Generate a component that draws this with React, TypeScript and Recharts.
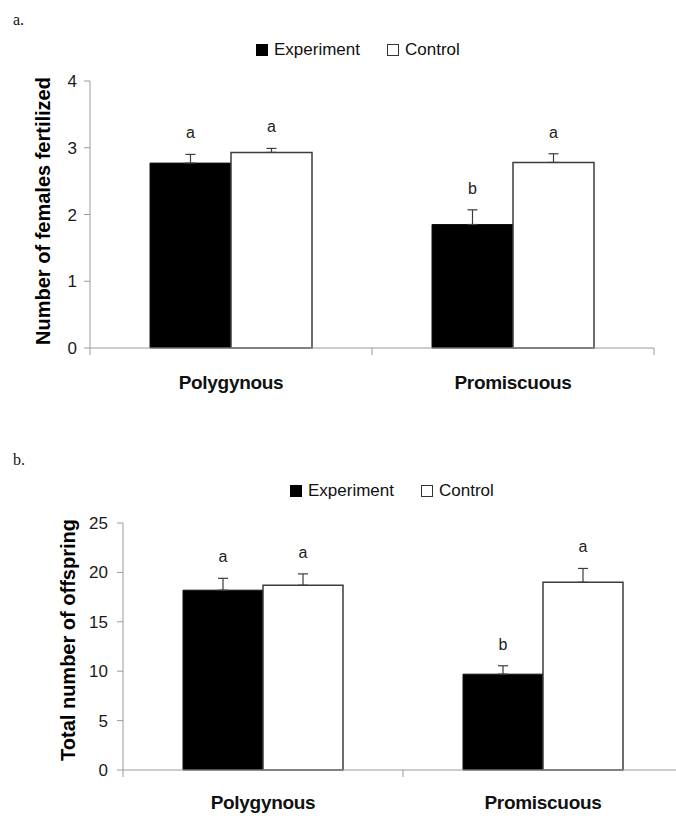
import React from 'react';
import { BarChart, Bar, XAxis, YAxis, ErrorBar, LabelList, Legend } from 'recharts';

const categories = ['Polygynous', 'Promiscuous'];
const seriesNames = ['Experiment', 'Control'];

// panel a: number of females fertilized
const fertExperiment = [2.77, 1.85];
const fertExperimentSe = [0.13, 0.22];
const fertControl = [2.93, 2.78];
const fertControlSe = [0.06, 0.13];
const fertTicks = [0, 1, 2, 3, 4];

// panel b: total number of offspring
const offExperiment = [18.2, 9.7];
const offExperimentSe = [1.2, 0.85];
const offControl = [18.7, 19.0];
const offControlSe = [1.15, 1.4];
const offTicks = [0, 5, 10, 15, 20, 25];

const experimentLetters = ['a', 'b'];
const controlLetters = ['a', 'a'];

const FONT = '"Liberation Sans", Arial, sans-serif';
const AXIS = '#9a9a9a';
const EDGE = '#3c3c3c';

const buildRows = (exp: number[], expSe: number[], ctl: number[], ctlSe: number[]) =>
  categories.map((name, i) => ({
    name,
    experiment: exp[i],
    control: ctl[i],
    expErr: [0, expSe[i]],
    ctlErr: [0, ctlSe[i]],
    expLetter: experimentLetters[i],
    ctlLetter: controlLetters[i],
  }));

const fertRows = buildRows(fertExperiment, fertExperimentSe, fertControl, fertControlSe);
const offRows = buildRows(offExperiment, offExperimentSe, offControl, offControlSe);

const LegendBox = () => (
  <div style={{ display: 'flex', alignItems: 'center', fontFamily: FONT, fontSize: 17, color: '#111', lineHeight: '18px' }}>
    {seriesNames.map((s, i) => (
      <div key={s} style={{ display: 'flex', alignItems: 'center', marginRight: i === 0 ? 27 : 0 }}>
        <span
          style={{
            display: 'inline-block',
            width: i === 0 ? 12 : 10,
            height: i === 0 ? 12 : 10,
            background: i === 0 ? '#000' : '#fff',
            border: i === 0 ? 'none' : '1px solid #333',
            marginRight: 6,
          }}
        />
        <span>{s}</span>
      </div>
    ))}
  </div>
);

type PanelProps = {
  rows: any[];
  se: [number[], number[]];
  ticks: number[];
  title: string;
  top: number;
  width: number;
  height: number;
  marginTop: number;
  marginRight: number;
  yAxisWidth: number;
  xAxisHeight: number;
  tickMargin: number;
  titleX: number;
  titleY: number;
  legendLeft: number;
  legendTop: number;
  labelDy: number;
};

const Panel = (p: PanelProps) => {
  const yMax = p.ticks[p.ticks.length - 1];
  const plotH = p.height - p.marginTop - p.xAxisHeight;
  const ppu = plotH / yMax;
  const halfBand = (p.width - p.yAxisWidth - p.marginRight) / categories.length / 2;

  const letter = (seArr: number[]) => (props: any) => {
    const { x, y, width, value, index } = props;
    const top = y - seArr[index] * ppu;
    return (
      <text x={x + width / 2} y={top - 16} textAnchor="middle" fontSize={16} fill="#222" fontFamily={FONT}>
        {value}
      </text>
    );
  };

  const categoryTick = (props: any) => {
    const { x, y, payload, index } = props;
    return (
      <g>
        <line x1={x - halfBand} x2={x - halfBand} y1={y} y2={y + 7} stroke={AXIS} />
        {index === categories.length - 1 && (
          <line x1={x + halfBand} x2={x + halfBand} y1={y} y2={y + 7} stroke={AXIS} />
        )}
        <text x={x} y={y + p.labelDy} textAnchor="middle" fontSize={19} fontWeight="bold" fill="#111" fontFamily={FONT} letterSpacing={-0.3}>
          {payload.value}
        </text>
      </g>
    );
  };

  const yTitle = () => (
    <text
      x={p.titleX}
      y={p.titleY}
      transform={`rotate(-90 ${p.titleX} ${p.titleY})`}
      textAnchor="middle"
      dominantBaseline="central"
      fontSize={20}
      fontWeight="bold"
      fill="#000"
      fontFamily={FONT}
    >
      {p.title}
    </text>
  );

  return (
    <div style={{ position: 'absolute', left: 0, top: p.top }}>
      <BarChart
        width={p.width}
        height={p.height}
        data={p.rows}
        margin={{ top: p.marginTop, right: p.marginRight, left: 0, bottom: 0 }}
        barCategoryGap={60}
        barGap={0}
      >
        <XAxis
          dataKey="name"
          height={p.xAxisHeight}
          axisLine={{ stroke: AXIS }}
          tickLine={false}
          tickSize={0}
          tickMargin={0}
          interval={0}
          tick={categoryTick}
        />
        <YAxis
          width={p.yAxisWidth}
          domain={[0, yMax]}
          ticks={p.ticks}
          axisLine={{ stroke: AXIS }}
          tickLine={{ stroke: AXIS }}
          tickSize={6}
          tickMargin={p.tickMargin}
          tick={{ fontSize: 17, fill: '#1a1a1a', fontFamily: FONT }}
          label={{ content: yTitle }}
        />
        <Legend
          verticalAlign="middle"
          align="center"
          layout="horizontal"
          wrapperStyle={{ top: p.legendTop, left: p.legendLeft, width: 'auto' }}
          content={() => <LegendBox />}
        />
        <Bar dataKey="experiment" name={seriesNames[0]} fill="#000" stroke="#111" strokeWidth={1} isAnimationActive={false}>
          <ErrorBar dataKey="expErr" width={5} stroke={EDGE} strokeWidth={1.2} direction="y" />
          <LabelList dataKey="expLetter" content={letter(p.se[0])} />
        </Bar>
        <Bar dataKey="control" name={seriesNames[1]} fill="#fff" stroke={EDGE} strokeWidth={1.5} isAnimationActive={false}>
          <ErrorBar dataKey="ctlErr" width={5} stroke={EDGE} strokeWidth={1.2} direction="y" />
          <LabelList dataKey="ctlLetter" content={letter(p.se[1])} />
        </Bar>
      </BarChart>
    </div>
  );
};

const panelLabel: React.CSSProperties = {
  position: 'absolute',
  left: 13,
  fontFamily: '"Liberation Serif", "Times New Roman", serif',
  fontSize: 16,
  lineHeight: '16px',
  color: '#111',
};

export default function App() {
  return (
    <div style={{ position: 'absolute', left: 0, top: 0, width: 676, height: 816, overflow: 'hidden', background: '#fff' }}>
      <div style={{ ...panelLabel, top: 12 }}>a.</div>
      <Panel
        rows={fertRows}
        se={[fertExperimentSe, fertControlSe]}
        ticks={fertTicks}
        title="Number of females fertilized"
        top={0}
        width={676}
        height={400}
        marginTop={81}
        marginRight={22}
        yAxisWidth={90}
        xAxisHeight={52}
        tickMargin={7}
        titleX={43}
        titleY={211}
        legendLeft={256}
        legendTop={41}
        labelDy={41}
      />
      <div style={{ ...panelLabel, top: 452 }}>b.</div>
      <Panel
        rows={offRows}
        se={[offExperimentSe, offControlSe]}
        ticks={offTicks}
        title="Total number of offspring"
        top={440}
        width={690}
        height={376}
        marginTop={83}
        marginRight={7}
        yAxisWidth={123}
        xAxisHeight={46}
        tickMargin={9}
        titleX={68}
        titleY={200}
        legendLeft={290}
        legendTop={42}
        labelDy={39}
      />
    </div>
  );
}
